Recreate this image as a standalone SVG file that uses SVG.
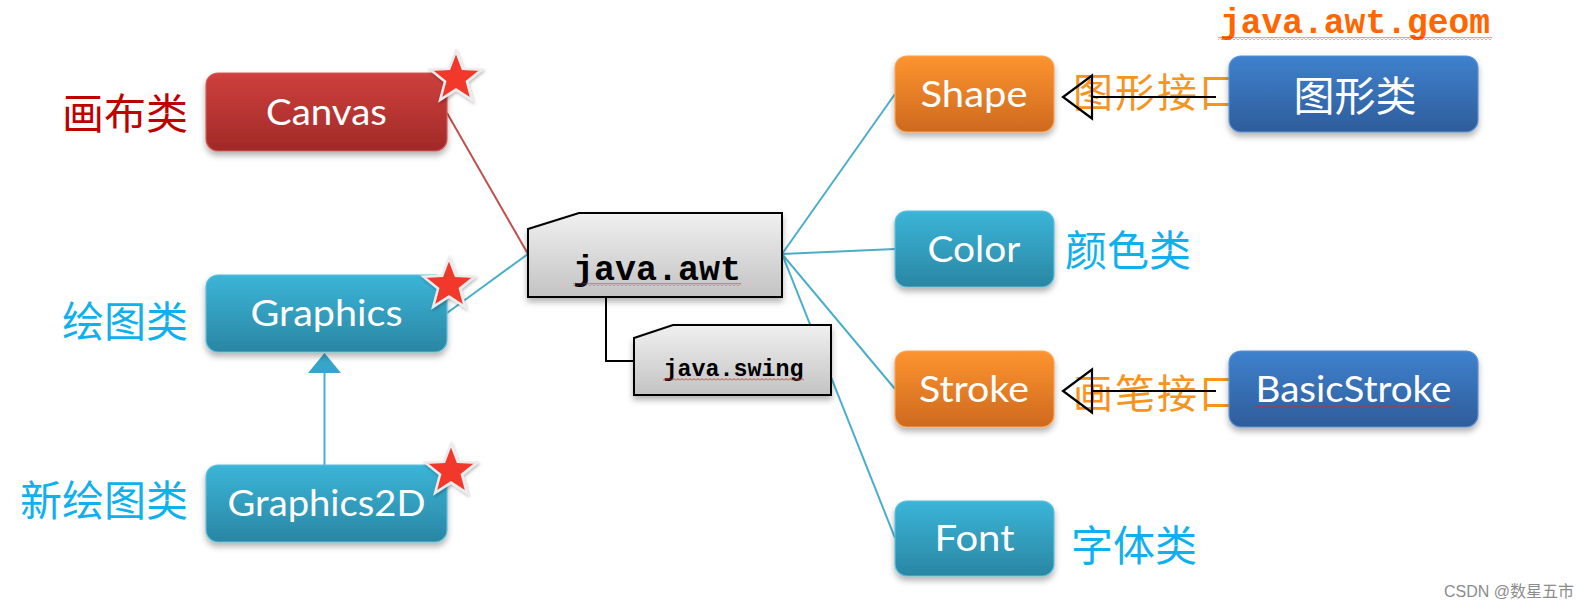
<svg xmlns="http://www.w3.org/2000/svg" width="1596" height="601" viewBox="0 0 1596 601">
<style>
.box-text{font-family:Lato,"Open Sans","Noto Sans",sans-serif;fill:#ffffff;text-anchor:middle}
.cjk{font-family:"Noto Sans CJK SC","Noto Sans",sans-serif}
.mono{font-family:"Liberation Mono",monospace;font-weight:bold;text-anchor:middle}
.side{font-size:42px}
.left{text-anchor:end}
.red{fill:#c00000}
.cyan{fill:#0fb0ee}
.orng{fill:#f7941d}
.conn{fill:none;stroke-width:2}
.blue-line{stroke:#4aaecb}
.red-line{stroke:#c0504d}
.blk-line{stroke:#000000}
</style>
<defs>
<linearGradient id="gRed" x1="0" y1="0" x2="0" y2="1"><stop offset="0" stop-color="#ce403d"/><stop offset="1" stop-color="#a12a28"/></linearGradient>
<linearGradient id="gCyan" x1="0" y1="0" x2="0" y2="1"><stop offset="0" stop-color="#3bb5d8"/><stop offset="1" stop-color="#2a86a3"/></linearGradient>
<linearGradient id="gOrange" x1="0" y1="0" x2="0" y2="1"><stop offset="0" stop-color="#fd9430"/><stop offset="1" stop-color="#ce691e"/></linearGradient>
<linearGradient id="gBlue" x1="0" y1="0" x2="0" y2="1"><stop offset="0" stop-color="#3f81ce"/><stop offset="1" stop-color="#2e5d9a"/></linearGradient>
<linearGradient id="gGray" x1="0" y1="0" x2="0" y2="1"><stop offset="0" stop-color="#f0f0f0"/><stop offset="1" stop-color="#c3c3c3"/></linearGradient>
<filter id="shadow" x="-20%" y="-20%" width="140%" height="150%"><feDropShadow dx="0" dy="4" stdDeviation="3" flood-color="#000" flood-opacity="0.3"/></filter>
<filter id="shadowS" x="-30%" y="-30%" width="160%" height="160%"><feDropShadow dx="1" dy="2" stdDeviation="1.5" flood-color="#000" flood-opacity="0.25"/></filter>
<path id="star" d="M0,-27 L6.76,-9.3 L25.68,-8.34 L10.94,3.55 L15.87,21.84 L0,11.5 L-15.87,21.84 L-10.94,3.55 L-25.68,-8.34 L-6.76,-9.3 Z" fill="#f1392a" stroke="#ececec" stroke-width="2.5" stroke-linejoin="miter"/>
<pattern id="squiggle" x="0" y="0" width="4" height="3" patternUnits="userSpaceOnUse"><polyline points="0,2.5 2,0.5 4,2.5" fill="none" stroke="#e02020" stroke-width="0.9"/></pattern>
<marker id="openTri" markerUnits="userSpaceOnUse" viewBox="-2 -24 34 48" markerWidth="34" markerHeight="48" refX="0" refY="0" orient="auto">
<path d="M0,-21.5 L29,0 L0,21.5 Z" fill="none" stroke="#000" stroke-width="2.2"/>
</marker>
<marker id="solidTri" markerUnits="userSpaceOnUse" viewBox="-1 -18 23 36" markerWidth="23" markerHeight="36" refX="0" refY="0" orient="auto">
<path d="M0,-16.5 L20,0 L0,16.5 Z" fill="#35a6c9"/>
</marker>
</defs>
<rect width="1596" height="601" fill="#ffffff"/>

<g id="interface-labels">
<text class="cjk orng" x="1073" y="107" font-size="40" letter-spacing="2">图形接口</text>
<text class="cjk orng" x="1073" y="408" font-size="40" letter-spacing="2">画笔接口</text>
</g>

<g id="connectors">
<path class="conn red-line" d="M447,113 L528,254"/>
<path class="conn blue-line" d="M447,313 L528,254"/>
<path class="conn blue-line" d="M782,254 L895,94"/>
<path class="conn blue-line" d="M782,254 L895,249"/>
<path class="conn blue-line" d="M782,254 L895,389"/>
<path class="conn blue-line" d="M782,254 L895,538"/>
<path class="conn blk-line" d="M606,297 V361 H634"/>
<path class="conn blue-line" d="M324.5,465 V373" marker-end="url(#solidTri)"/>
<path class="conn blk-line" d="M1216,97 H1092" marker-end="url(#openTri)"/>
<path class="conn blk-line" d="M1216,391 H1092" marker-end="url(#openTri)"/>
</g>

<g id="canvas">
<rect x="206" y="73" width="241" height="78" rx="12" fill="url(#gRed)" stroke="#d45a57" stroke-width="1.2" filter="url(#shadow)"/>
<text class="box-text" x="326.5" y="124.5" font-size="37" textLength="121" lengthAdjust="spacingAndGlyphs">Canvas</text>
<text class="cjk side red left" x="188" y="129">画布类</text>
<use href="#star" transform="translate(456,78)" filter="url(#shadowS)"/>
</g>

<g id="graphics">
<rect x="206" y="275" width="241" height="77" rx="12" fill="url(#gCyan)" stroke="#5cc0dc" stroke-width="1.2" filter="url(#shadow)"/>
<text class="box-text" x="326.5" y="326" font-size="37" textLength="152" lengthAdjust="spacingAndGlyphs">Graphics</text>
<text class="cjk side cyan left" x="188" y="337">绘图类</text>
<use href="#star" transform="translate(449,285)" filter="url(#shadowS)"/>
</g>

<g id="graphics2d">
<rect x="206" y="465" width="241" height="77" rx="12" fill="url(#gCyan)" stroke="#5cc0dc" stroke-width="1.2" filter="url(#shadow)"/>
<text class="box-text" x="326.5" y="516" font-size="37" textLength="198" lengthAdjust="spacingAndGlyphs">Graphics2D</text>
<text class="cjk side cyan left" x="188" y="516">新绘图类</text>
<use href="#star" transform="translate(451,471)" filter="url(#shadowS)"/>
</g>

<g id="java-awt">
<path d="M528,229 L579,213 H782 V297 H528 Z" fill="url(#gGray)" stroke="#000" stroke-width="2" filter="url(#shadow)"/>
<text class="mono" x="657" y="280" font-size="34.5" textLength="168" lengthAdjust="spacingAndGlyphs">java.awt</text>
<rect x="573" y="283" width="168" height="3" fill="url(#squiggle)"/>
</g>

<g id="java-swing">
<path d="M634,338 L673,325 H831 V395 H634 Z" fill="url(#gGray)" stroke="#000" stroke-width="2" filter="url(#shadow)"/>
<text class="mono" x="733.5" y="376" font-size="23" textLength="140" lengthAdjust="spacingAndGlyphs">java.swing</text>
<rect x="663" y="378" width="141" height="3" fill="url(#squiggle)"/>
</g>

<g id="shape">
<rect x="895" y="56" width="159" height="76" rx="12" fill="url(#gOrange)" stroke="#fba354" stroke-width="1.2" filter="url(#shadow)"/>
<text class="box-text" x="974" y="107" font-size="37" textLength="107" lengthAdjust="spacingAndGlyphs">Shape</text>
</g>

<g id="color">
<rect x="895" y="211" width="159" height="76" rx="12" fill="url(#gCyan)" stroke="#5cc0dc" stroke-width="1.2" filter="url(#shadow)"/>
<text class="box-text" x="974" y="262" font-size="37" textLength="93" lengthAdjust="spacingAndGlyphs">Color</text>
<text class="cjk side cyan" x="1065" y="266">颜色类</text>
</g>

<g id="stroke">
<rect x="895" y="351" width="159" height="76" rx="12" fill="url(#gOrange)" stroke="#fba354" stroke-width="1.2" filter="url(#shadow)"/>
<text class="box-text" x="974" y="402" font-size="37" textLength="110" lengthAdjust="spacingAndGlyphs">Stroke</text>
</g>

<g id="font">
<rect x="895" y="501" width="159" height="75" rx="12" fill="url(#gCyan)" stroke="#5cc0dc" stroke-width="1.2" filter="url(#shadow)"/>
<text class="box-text" x="974.5" y="551" font-size="37" textLength="80" lengthAdjust="spacingAndGlyphs">Font</text>
<text class="cjk side cyan" x="1071" y="561">字体类</text>
</g>

<g id="shape-impl">
<rect x="1229" y="56" width="249" height="76" rx="12" fill="url(#gBlue)" stroke="#5a93d6" stroke-width="1.2" filter="url(#shadow)"/>
<text class="cjk" x="1355" y="111" font-size="41" fill="#ffffff" text-anchor="middle">图形类</text>
</g>

<g id="basicstroke">
<rect x="1229" y="351" width="249" height="76" rx="12" fill="url(#gBlue)" stroke="#5a93d6" stroke-width="1.2" filter="url(#shadow)"/>
<text class="box-text" x="1353.5" y="402" font-size="37" textLength="196" lengthAdjust="spacingAndGlyphs">BasicStroke</text>
<rect x="1255" y="405" width="197" height="3" fill="url(#squiggle)"/>
</g>

<g id="geom-label">
<text class="mono" x="1355" y="33" font-size="34.5" fill="#ff6600" textLength="270" lengthAdjust="spacingAndGlyphs">java.awt.geom</text>
<rect x="1218" y="37" width="274" height="3" fill="url(#squiggle)"/>
</g>

<text x="1444" y="597" font-size="16" fill="#8c8c8c" font-family="Liberation Sans,Noto Sans CJK SC,sans-serif">CSDN @数星五市</text>
</svg>
